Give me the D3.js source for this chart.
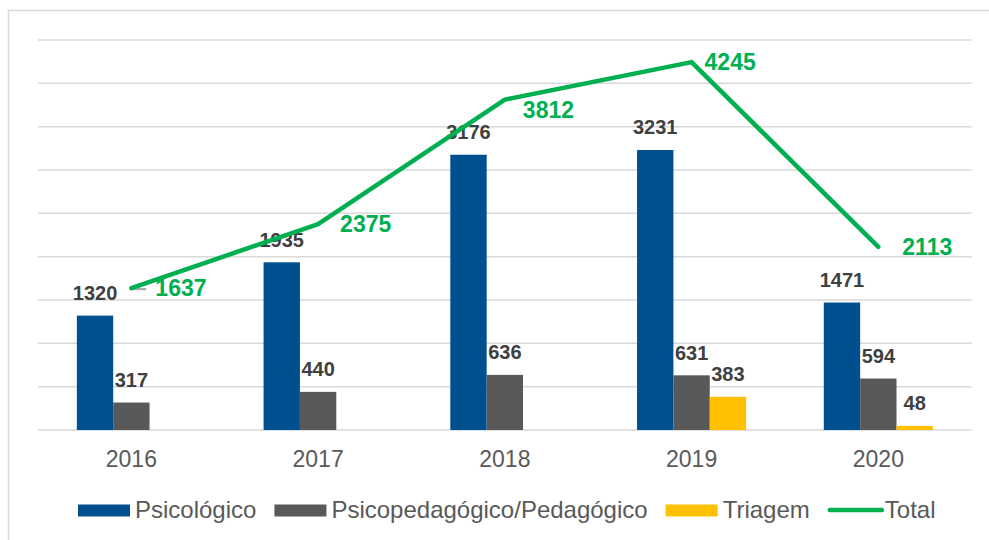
<!DOCTYPE html>
<html>
<head>
<meta charset="utf-8">
<script src="https://cdn.jsdelivr.net/npm/d3@7/dist/d3.min.js"></script>
<style>
  html, body { margin: 0; padding: 0; background: #fff; }
  svg { display: block; font-family: "Liberation Sans", Arial, sans-serif; }
</style>
</head>
<body>
<svg id="chart" width="989" height="540"></svg>
<script>
// ---- data ----
const years = ["2016", "2017", "2018", "2019", "2020"];
const seriesNames = ["Psicológico", "Psicopedagógico/Pedagógico", "Triagem"];
const psicologico = [1320, 1935, 3176, 3231, 1471];
const psicopedagogico = [317, 440, 636, 631, 594];
const triagem = [null, null, null, 383, 48];
const total = [1637, 2375, 3812, 4245, 2113];
const yTicks = [0, 500, 1000, 1500, 2000, 2500, 3000, 3500, 4000, 4500];
const totalName = "Total";

// label nudges for Total labels (dx, dy in px)
const totalLabelOffsets = [[24, 0], [22, 0], [18, 10], [13, 0], [24, 0]];

// ---- styles ----
const colors = ["#00508f", "#595959", "#ffc000"];
const lineColor = "#00b050";
const gridColor = "#d9d9d9";

const svg = d3.select("#chart");
const margin = { left: 38, right: 989 - 971.7, top: 40, bottom: 540 - 430 };
const W = 989, H = 540;

// outer frame
svg.append("rect")
  .attr("x", 8.5).attr("y", 10.5).attr("width", 1000).attr("height", 600)
  .attr("fill", "none").attr("stroke", gridColor).attr("stroke-width", 1.5);

const x0 = d3.scaleBand().domain(years).range([margin.left, W - margin.right]).padding(0);
const bw = x0.bandwidth();
const x1 = d3.scaleBand().domain(seriesNames).range([bw * 0.208, bw * 0.792]).padding(0);
const y = d3.scaleLinear().domain([0, 4500]).range([H - margin.bottom, margin.top]);

// gridlines
svg.append("g").selectAll("line").data(yTicks).join("line")
  .attr("x1", margin.left).attr("x2", W - margin.right)
  .attr("y1", d => y(d)).attr("y2", d => y(d))
  .attr("stroke", gridColor).attr("stroke-width", 1.5);

// x axis labels
const xAxis = d3.axisBottom(x0).tickSize(0).tickPadding(0);
const gx = svg.append("g").attr("transform", `translate(0,${y(0)})`).call(xAxis);
gx.select(".domain").remove();
gx.selectAll("text")
  .attr("y", 37).attr("dy", null)
  .attr("font-size", 23).attr("fill", "#595959")
  .attr("font-family", "'Liberation Sans', Arial, sans-serif");

// bars
const seriesData = [psicologico, psicopedagogico, triagem];
const barData = [];
seriesData.forEach((arr, si) => {
  arr.forEach((v, i) => {
    if (v != null) barData.push({ s: seriesNames[si], si, year: years[i], v });
  });
});

svg.append("g").selectAll("rect").data(barData).join("rect")
  .attr("x", d => x0(d.year) + x1(d.s))
  .attr("width", x1.bandwidth())
  .attr("y", d => y(d.v))
  .attr("height", d => y(0) - y(d.v))
  .attr("fill", d => colors[d.si]);

// bar labels
svg.append("g").selectAll("text").data(barData).join("text")
  .attr("x", d => x0(d.year) + x1(d.s) + x1.bandwidth() / 2)
  .attr("y", d => y(d.v) - 15.5)
  .attr("text-anchor", "middle")
  .attr("font-size", 20).attr("font-weight", "bold").attr("fill", "#404040")
  .text(d => d.v);

// leader line for first total label
const cx = i => x0(years[i]) + bw / 2;
svg.append("line")
  .attr("x1", cx(0)).attr("x2", cx(0) + totalLabelOffsets[0][0] - 9)
  .attr("y1", y(total[0]) + 1).attr("y2", y(total[0]) + 1)
  .attr("stroke", "#a6a6a6").attr("stroke-width", 2);

// total line
const line = d3.line().x((d, i) => cx(i)).y(d => y(d));
svg.append("path").datum(total)
  .attr("d", line)
  .attr("fill", "none").attr("stroke", lineColor).attr("stroke-width", 4.5)
  .attr("stroke-linejoin", "round").attr("stroke-linecap", "round");

// total labels
svg.append("g").selectAll("text").data(total).join("text")
  .attr("x", (d, i) => cx(i) + totalLabelOffsets[i][0])
  .attr("y", (d, i) => y(d) + totalLabelOffsets[i][1])
  .attr("dy", "0.35em")
  .attr("font-size", 23).attr("font-weight", "bold").attr("fill", lineColor)
  .text(d => d);

// legend
const legend = svg.append("g").attr("transform", "translate(78,510)");
let lx = 0;
const items = seriesNames.map((n, i) => ({ name: n, type: "rect", color: colors[i] }))
  .concat([{ name: totalName, type: "line", color: lineColor }]);
items.forEach((it, i) => {
  const g = legend.append("g").attr("transform", `translate(${lx},0)`);
  if (it.type === "rect") {
    g.append("rect").attr("x", 0).attr("y", -5.5).attr("width", 52).attr("height", 12)
      .attr("fill", it.color);
  } else {
    g.append("line").attr("x1", 2).attr("x2", 54).attr("y1", 0).attr("y2", 0)
      .attr("stroke", it.color).attr("stroke-width", 4.5).attr("stroke-linecap", "round");
  }
  const t = g.append("text").attr("x", 57).attr("y", 0).attr("dy", "0.35em")
    .attr("font-size", 24).attr("fill", "#595959").text(it.name);
  const tw = t.node().getComputedTextLength();
  lx += 57 + tw + 18;
});
</script>
</body>
</html>
